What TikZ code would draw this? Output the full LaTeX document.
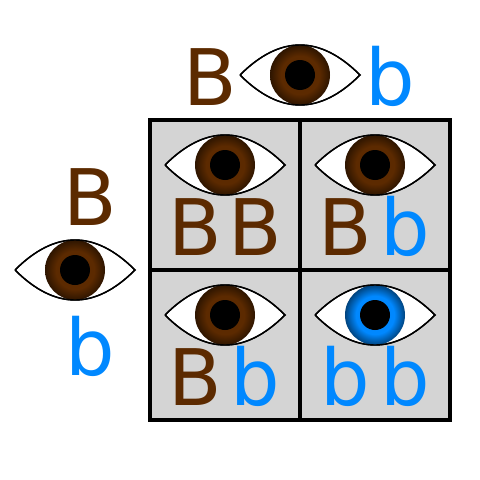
\documentclass[tikz,border=0pt]{standalone}
\usepackage{fontspec}
\setmainfont{DejaVu Sans}
\definecolor{darkbrown}{RGB}{92,42,0}
\definecolor{lightblue}{RGB}{0,136,255}
\definecolor{cellgray}{RGB}{212,212,212}
\pgfdeclareradialshading{browniris}{\pgfpoint{0bp}{0bp}}{color(0bp)=(darkbrown); color(16bp)=(darkbrown); color(34bp)=(black); color(50bp)=(black)}
\pgfdeclareradialshading{blueiris}{\pgfpoint{0bp}{0bp}}{color(0bp)=(lightblue); color(16bp)=(lightblue); color(34bp)=(black); color(50bp)=(black)}
\tikzset{
  allele/.style={anchor=base,inner sep=0pt,font=\fontsize{55.5}{60}\selectfont},
  big/.style={allele,text=darkbrown},
  small/.style={allele,text=lightblue},
  pics/eye/.style={code={
    \draw[fill=white,line width=1pt](-60,0) .. controls (-20,-40) and (20,-40) .. (60,0) .. controls (20,40) and (-20,40) .. (-60,0);
    \shade[shading=#1](0,0) circle[radius=30];
    \fill[black](0,0) circle[radius=15];
    \draw[line width=1pt](-60,0) .. controls (-20,-40) and (20,-40) .. (60,0) .. controls (20,40) and (-20,40) .. (-60,0);
  }}
}

\begin{document}
\begin{tikzpicture}[x=0.025cm,y=-0.025cm]
  \useasboundingbox (0,0) rectangle (480,480);
  % Grid
  \draw[fill=cellgray,line width=2.2pt](150,120) rectangle (450,420);
  \draw[line width=2.2pt](300,120)--(300,420);
  \draw[line width=2.2pt](150,270)--(450,270);
  % Parents
  \pic at (300,75) {eye=browniris};
  \pic at (75,270) {eye=browniris};
  \node[big] (topB) at (210,105) {B};
  \node[small] (topb) at (390,105) {b};
  \node[big] (leftB) at (90,225) {B};
  \node[small] (leftb) at (90,375) {b};
  % Offspring
  \pic at (225,165) {eye=browniris};
  \pic at (375,165) {eye=browniris};
  \pic at (225,315) {eye=browniris};
  \pic at (375,315) {eye=blueiris};
  \node[big] (cellaa) at (195,255) {B};
  \node[big] (cellab) at (255,255) {B};
  \node[big] (cellba) at (345,255) {B};
  \node[small] (cellbb) at (405,255) {b};
  \node[big] (cellca) at (195,405) {B};
  \node[small] (cellcb) at (255,405) {b};
  \node[small] (cellda) at (345,405) {b};
  \node[small] (celldb) at (405,405) {b};
\end{tikzpicture}
\end{document}
